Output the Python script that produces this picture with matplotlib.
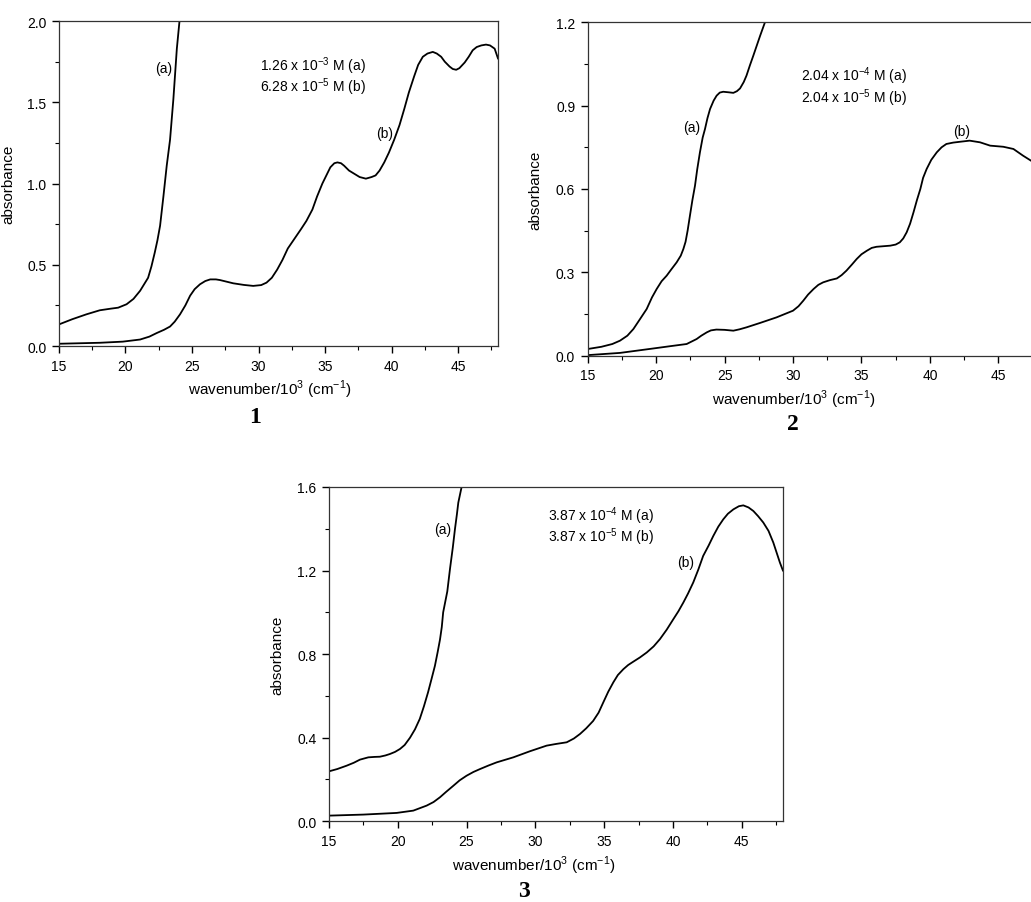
import matplotlib
matplotlib.use("Agg")
import matplotlib.pyplot as plt
from matplotlib.ticker import MultipleLocator, FormatStrFormatter

plt.rcParams['font.family'] = ['Liberation Sans', 'DejaVu Sans']
plt.rcParams['mathtext.fontset'] = 'custom'
plt.rcParams['mathtext.rm'] = 'Liberation Sans'

# --- spectrum 1 ---
x1a = [15, 16, 17.06, 18.07, 18.9, 19.45, 20.08, 20.6, 21.1, 21.7, 21.95, 22.2, 22.4,
       22.6, 22.85, 23.1, 23.35, 23.6, 23.86, 24.06]
y1a = [0.133, 0.165, 0.195, 0.22, 0.23, 0.236, 0.257, 0.29, 0.34, 0.42, 0.49, 0.575, 0.65,
       0.74, 0.92, 1.11, 1.27, 1.52, 1.83, 2.0]
x1b = [15, 18.07, 19.8, 21.1, 21.8, 22.35, 22.9, 23.35, 23.7, 24.1, 24.5, 24.86, 25.2,
       25.6, 26.0, 26.37, 26.8, 27.1, 27.6, 28.1, 28.9, 29.6, 30.2, 30.6, 31.0, 31.4,
       31.8, 32.2, 32.7, 33.2, 33.6, 34.05, 34.4, 34.8, 35.1, 35.4, 35.7, 35.93, 36.2,
       36.43, 36.8, 37.2, 37.6, 38.07, 38.5, 38.8, 39.1, 39.45, 39.8, 40.2, 40.6, 40.96,
       41.3, 41.7, 42.0, 42.35, 42.7, 43.1, 43.4, 43.73, 44.0, 44.36, 44.6, 44.86, 45.1,
       45.5, 45.8, 46.1, 46.4, 46.75, 47.1, 47.4, 47.75, 48.0]
y1b = [0.014, 0.02, 0.027, 0.04, 0.058, 0.08, 0.1, 0.12, 0.15, 0.195, 0.25, 0.31, 0.35,
       0.38, 0.40, 0.41, 0.41, 0.406, 0.396, 0.386, 0.376, 0.37, 0.375, 0.39, 0.42, 0.47,
       0.53, 0.6, 0.66, 0.72, 0.77, 0.84, 0.92, 1.0, 1.05, 1.1, 1.125, 1.13, 1.125,
       1.11, 1.08, 1.06, 1.04, 1.03, 1.04, 1.05, 1.08, 1.13, 1.19, 1.27, 1.36, 1.46,
       1.56, 1.66, 1.73, 1.78, 1.80, 1.81, 1.80, 1.78, 1.75, 1.72, 1.705, 1.70, 1.71,
       1.745, 1.78, 1.82, 1.84, 1.85, 1.855, 1.85, 1.83, 1.77]

# --- spectrum 2 ---
x2a = [15, 16, 16.8, 17.36, 17.9, 18.34, 18.8, 19.31, 19.7, 20.04, 20.4, 20.77, 21.1,
       21.5, 21.8, 21.99, 22.15, 22.3, 22.47, 22.65, 22.84, 23.0, 23.2, 23.4, 23.57,
       23.75, 23.94, 24.2, 24.42, 24.65, 24.9, 25.3, 25.64, 25.9, 26.13, 26.4, 26.6,
       26.85, 27.1, 27.6, 27.95]
y2a = [0.024, 0.032, 0.042, 0.054, 0.072, 0.096, 0.13, 0.168, 0.21, 0.24, 0.268, 0.288,
       0.31, 0.336, 0.36, 0.384, 0.41, 0.45, 0.504, 0.56, 0.612, 0.67, 0.732, 0.785,
       0.816, 0.855, 0.888, 0.918, 0.936, 0.947, 0.95, 0.948, 0.946, 0.952, 0.962, 0.985,
       1.008, 1.045, 1.08, 1.152, 1.2]
x2b = [15, 17.36, 18.58, 19.8, 21.0, 22.23, 22.96, 23.3, 23.7, 24.0, 24.4, 25.0, 25.64,
       26.1, 26.6, 27.6, 28.8, 30.0, 30.4, 30.75, 31.1, 31.5, 31.85, 32.2, 32.7, 33.2,
       33.55, 33.9, 34.3, 34.65, 35.0, 35.4, 35.75, 36.1, 36.6, 37.1, 37.5, 37.8, 38.05,
       38.3, 38.55, 38.8, 39.05, 39.3, 39.5, 39.76, 40.1, 40.5, 40.85, 41.2, 41.7, 42.2,
       42.9, 43.66, 44.4, 45.36, 46.1, 46.8, 47.38, 48.0]
y2b = [0.002, 0.01, 0.018, 0.026, 0.034, 0.042, 0.06, 0.072, 0.084, 0.091, 0.094, 0.093,
       0.09, 0.095, 0.102, 0.118, 0.138, 0.162, 0.178, 0.198, 0.22, 0.24, 0.255, 0.264,
       0.272, 0.278, 0.29, 0.306, 0.328, 0.348, 0.365, 0.378, 0.388, 0.392, 0.394, 0.396,
       0.40, 0.408, 0.422, 0.444, 0.475, 0.516, 0.56, 0.6, 0.64, 0.672, 0.705, 0.732,
       0.75, 0.762, 0.767, 0.770, 0.774, 0.768, 0.756, 0.752, 0.744, 0.72, 0.702, 0.68]

# --- spectrum 3 ---
x3a = [15, 15.6, 16.28, 16.8, 17.25, 17.86, 18.3, 18.7, 19.1, 19.43, 19.8, 20.16, 20.5,
       20.89, 21.25, 21.6, 21.9, 22.2, 22.45, 22.7, 22.9, 23.07, 23.2, 23.3, 23.45, 23.6,
       23.8, 24.0, 24.16, 24.3, 24.4, 24.64]
y3a = [0.239, 0.25, 0.266, 0.28, 0.295, 0.306, 0.308, 0.309, 0.315, 0.322, 0.332, 0.346,
       0.365, 0.40, 0.44, 0.49, 0.55, 0.617, 0.68, 0.744, 0.81, 0.87, 0.93, 1.0, 1.05,
       1.10, 1.21, 1.31, 1.40, 1.47, 1.525, 1.6]
x3b = [15, 17.5, 19.92, 21.13, 22.1, 22.6, 23.07, 23.5, 24.04, 24.5, 25.0, 25.5, 25.98,
       26.6, 27.19, 28.4, 29.6, 30.82, 31.5, 32.28, 32.8, 33.25, 33.7, 34.2, 34.6, 34.94,
       35.3, 35.67, 36.0, 36.4, 36.75, 37.1, 37.6, 38.1, 38.6, 39.06, 39.55, 40.03,
       40.4, 40.76, 41.1, 41.48, 41.85, 42.2, 42.6, 42.94, 43.3, 43.66, 44.0, 44.4,
       44.8, 45.12, 45.5, 45.85, 46.2, 46.57, 46.95, 47.3, 47.78, 48.0]
y3b = [0.027, 0.032, 0.04, 0.051, 0.075, 0.092, 0.115, 0.14, 0.17, 0.196, 0.218, 0.236,
       0.25, 0.267, 0.282, 0.306, 0.335, 0.362, 0.37, 0.378, 0.396, 0.418, 0.445, 0.48,
       0.52, 0.569, 0.62, 0.665, 0.70, 0.728, 0.748, 0.763, 0.784, 0.808, 0.837, 0.872,
       0.917, 0.967, 1.005, 1.047, 1.09, 1.143, 1.205, 1.27, 1.32, 1.366, 1.41, 1.445,
       1.472, 1.493, 1.508, 1.512, 1.502, 1.485, 1.46, 1.43, 1.39, 1.334, 1.238, 1.2]

conc1 = ["1.26 x 10$^{-3}$ M (a)", "6.28 x 10$^{-5}$ M (b)"]
conc2 = ["2.04 x 10$^{-4}$ M (a)", "2.04 x 10$^{-5}$ M (b)"]
conc3 = ["3.87 x 10$^{-4}$ M (a)", "3.87 x 10$^{-5}$ M (b)"]

panels = [
    dict(rect=[0.0572, 0.6157, 0.4258, 0.3599], ymax=2.0, step=0.5,
         a=(x1a, y1a), b=(x1b, y1b), conc=conc1, cpos=(30.1, 1.73, 1.60),
         apos=(22.85, 1.71), bpos=(39.45, 1.31), num="1", numpos=(255, 418),
         ylab_x=15, xlab_x=270),
    dict(rect=[0.570, 0.605, 0.4382, 0.3692], ymax=1.2, step=0.3,
         a=(x2a, y2a), b=(x2b, y2b), conc=conc2, cpos=(30.6, 1.01, 0.932),
         apos=(22.6, 0.824), bpos=(42.3, 0.81), num="2", numpos=(793, 424),
         ylab_x=542, xlab_x=794),
    dict(rect=[0.3191, 0.0894, 0.4403, 0.3702], ymax=1.6, step=0.4,
         a=(x3a, y3a), b=(x3b, y3b), conc=conc3, cpos=(30.94, 1.465, 1.363),
         apos=(23.3, 1.40), bpos=(40.9, 1.24), num="3", numpos=(524, 892),
         ylab_x=284, xlab_x=534),
]

W, H = 1031, 903
fig = plt.figure(figsize=(W / 100, H / 100), dpi=100)

for p in panels:
    ax = fig.add_axes(p['rect'])
    ax.plot(*p['a'], color='black', lw=1.3)
    ax.plot(*p['b'], color='black', lw=1.3)
    ax.set_xlim(15, 48)
    ax.set_ylim(0, p['ymax'])
    ax.xaxis.set_major_locator(MultipleLocator(5))
    ax.xaxis.set_minor_locator(MultipleLocator(2.5))
    ax.yaxis.set_major_locator(MultipleLocator(p['step']))
    ax.yaxis.set_minor_locator(MultipleLocator(p['step'] / 2))
    ax.yaxis.set_major_formatter(FormatStrFormatter('%.1f'))
    ax.tick_params(which='major', direction='out', length=5, width=1, labelsize=10,
                   pad=4)
    ax.tick_params(which='minor', direction='out', length=3, width=0.8)
    for s in ax.spines.values():
        s.set_linewidth(0.9)
        s.set_color('#333333')
    ax.set_facecolor('none')

    ax.text(p['apos'][0], p['apos'][1], "(a)", fontsize=10, ha='center', va='center')
    ax.text(p['bpos'][0], p['bpos'][1], "(b)", fontsize=10, ha='center', va='center')
    ax.text(p['cpos'][0], p['cpos'][1], p['conc'][0], fontsize=10, va='center')
    ax.text(p['cpos'][0], p['cpos'][2], p['conc'][1], fontsize=10, va='center')

    ax.set_ylabel("absorbance", fontsize=11)
    ax.set_xlabel("wavenumber/10$^3$ (cm$^{-1}$)", fontsize=11)

    # put the axis labels where they sit in the reference (pixel offsets)
    l, b, w, h = p['rect']
    x0 = l * W
    ax.yaxis.set_label_coords((p['ylab_x'] - x0) / (w * W), 0.5)
    ax.xaxis.set_label_coords((p['xlab_x'] - x0) / (w * W), -32 / (h * H))

    fig.text(p['numpos'][0] / W, 1 - p['numpos'][1] / H, p['num'],
             fontsize=17, fontweight='bold', family='Liberation Serif',
             ha='center', va='center')

fig.savefig("out.png", dpi=100, facecolor='white')
